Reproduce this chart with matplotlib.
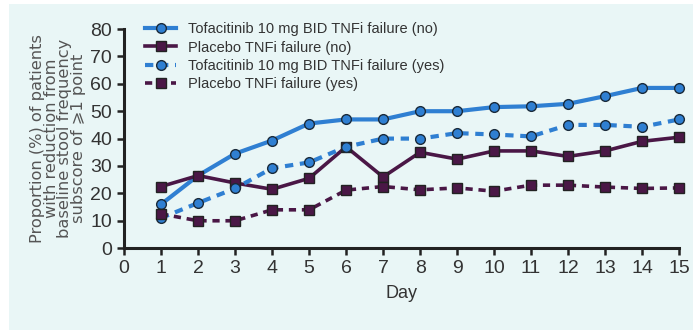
import matplotlib.pyplot as plt
from matplotlib.patches import Rectangle

# Data
days = list(range(1, 16))
tofa_no = [16, 26.5, 34.5, 39.3, 45.5, 47, 47, 50, 50, 51.5, 51.8, 52.7, 55.5, 58.5, 58.5]
placebo_no = [22.5, 26.5, 23.8, 21.5, 25.5, 37, 26, 35, 32.5, 35.5, 35.5, 33.5, 35.5, 39, 40.5]
tofa_yes = [11, 16.5, 21.8, 29.2, 31.3, 37, 40, 40, 42, 41.5, 40.8, 45, 45, 44.3, 47]
placebo_yes = [12.5, 10, 10, 14, 14, 21.2, 22.5, 21.3, 22, 20.8, 23, 23, 22.3, 21.8, 22]

labels = ['Tofacitinib 10 mg BID TNFi failure (no)',
          'Placebo TNFi failure (no)',
          'Tofacitinib 10 mg BID TNFi failure (yes)',
          'Placebo TNFi failure (yes)']

blue = '#2f7fd2'
plum = '#4a1746'
bg = '#e9f6f6'
narrow = ['Liberation Sans', 'DejaVu Sans']

fig = plt.figure(figsize=(6.93, 3.30), dpi=100, facecolor='white')
fig.patches.append(Rectangle((9 / 693, 0), 1, 1 - 4 / 330, transform=fig.transFigure,
                             facecolor=bg, edgecolor='none', zorder=-10))
ax = fig.add_axes([0.179, 0.248, 0.801, 0.664])
ax.set_facecolor('none')

ax.plot(days, tofa_no, color=blue, lw=3, marker='o', ms=7, mfc=blue, mec='#1a2a3a', mew=1, label=labels[0])
ax.plot(days, placebo_no, color=plum, lw=2.6, marker='s', ms=7, mfc=plum, mec='#222', mew=1, label=labels[1])
ax.plot(days, tofa_yes, color=blue, lw=3, ls=(0, (2, 1.6)), marker='o', ms=7, mfc=blue, mec='#1a2a3a', mew=1, label=labels[2])
ax.plot(days, placebo_yes, color=plum, lw=2.6, ls=(0, (2, 1.6)), marker='s', ms=7, mfc=plum, mec='#222', mew=1, label=labels[3])

ax.set_xlim(0, 15)
ax.set_ylim(0, 80)
ax.set_xticks(range(0, 16))
ax.set_yticks(range(0, 81, 10))
ax.spines['top'].set_visible(False)
ax.spines['right'].set_visible(False)
for s in ('left', 'bottom'):
    ax.spines[s].set_linewidth(2.2)
    ax.spines[s].set_color('#222222')
ax.tick_params(axis='both', length=5, width=1.8, color='#222222', labelcolor='#333333', labelsize=14)
for t in ax.get_xticklabels() + ax.get_yticklabels():
    t.set_family(narrow)
for ln in ax.lines:
    ln.set_clip_on(False)

ax.set_xlabel('Day', family=narrow, fontsize=13, color='#333333', labelpad=6)
ax.set_ylabel('Proportion (%) of patients\nwith reduction from\nbaseline stool frequency\nsubscore of \u2a7e1 point',
              family='DejaVu Sans', fontsize=11.7, color='#555555',
              linespacing=0.9, labelpad=3)

leg = ax.legend(loc='upper left', bbox_to_anchor=(0.015, 1.09), frameon=False,
                prop={'family': narrow, 'size': 10.5}, handlelength=2.1,
                labelspacing=0.28, handletextpad=0.8)
for t in leg.get_texts():
    t.set_color('#333333')

fig.savefig('out.png', dpi=100, facecolor=fig.get_facecolor())
